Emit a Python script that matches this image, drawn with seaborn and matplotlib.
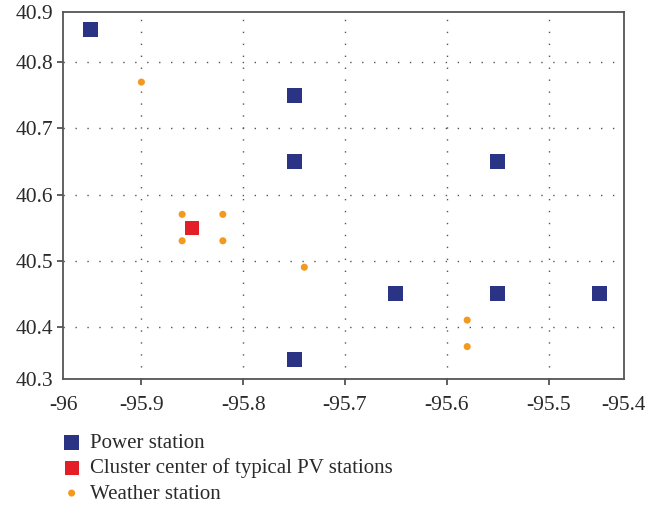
import matplotlib
matplotlib.use("Agg")
import matplotlib.pyplot as plt
import seaborn as sns
import pandas as pd

# Station coordinates (longitude, latitude)
power_lon = [-95.95, -95.75, -95.75, -95.55, -95.65, -95.55, -95.45, -95.75]
power_lat = [40.85, 40.75, 40.65, 40.65, 40.45, 40.45, 40.45, 40.35]

center_lon = [-95.85]
center_lat = [40.55]

weather_lon = [-95.90, -95.86, -95.82, -95.86, -95.82, -95.74, -95.58, -95.58]
weather_lat = [40.77, 40.57, 40.57, 40.53, 40.53, 40.49, 40.41, 40.37]

x_ticks = [-95.9, -95.8, -95.7, -95.6, -95.5]
y_ticks = [40.4, 40.5, 40.6, 40.7, 40.8]
x_end_labels = ["-96", "-95.4"]
y_end_labels = ["40.3", "40.9"]

sns.set_theme(style="white")
plt.rcParams["font.family"] = ["Liberation Serif", "DejaVu Serif"]

power = pd.DataFrame({"lon": power_lon, "lat": power_lat})
center = pd.DataFrame({"lon": center_lon, "lat": center_lat})
weather = pd.DataFrame({"lon": weather_lon, "lat": weather_lat})

fig = plt.figure(figsize=(6.45, 5.07), dpi=100)
ax = fig.add_axes([0.0977, 0.2525, 0.8697, 0.7238])

sns.scatterplot(data=power, x="lon", y="lat", ax=ax, marker="s", s=118,
                color="#2B3384", edgecolor="none", label="Power station", zorder=3)
sns.scatterplot(data=center, x="lon", y="lat", ax=ax, marker="s", s=100,
                color="#E41E26", edgecolor="none",
                label="Cluster center of typical PV stations", zorder=3)
sns.scatterplot(data=weather, x="lon", y="lat", ax=ax, marker="o", s=26,
                color="#F39A1E", edgecolor="none", label="Weather station", zorder=3)

xlo, xhi = -95.977, -95.426
ylo, yhi = 40.321, 40.876
ax.set_xlim(xlo, xhi)
ax.set_ylim(ylo, yhi)

# dotted grid on the interior ticks only
for xv in x_ticks:
    ax.axvline(xv, color="#555555", lw=1.0, ls=(0, (1, 7.6)), zorder=1)
for yv in y_ticks:
    ax.axhline(yv, color="#555555", lw=1.0, ls=(0, (1, 7.6)), zorder=1)

ax.set_xticks([xlo] + x_ticks + [xhi])
ax.set_xticklabels([x_end_labels[0]] + [f"{v:g}" for v in x_ticks] + [x_end_labels[1]])
ax.set_yticks([ylo] + y_ticks + [yhi])
ax.set_yticklabels([y_end_labels[0]] + [f"{v:g}" for v in y_ticks] + [y_end_labels[1]])
ax.tick_params(axis="both", which="both", direction="out", length=4, width=1.2,
               color="#444444", labelsize=15.5, labelcolor="#2a2a2a",
               bottom=True, left=True)
ax.tick_params(axis="x", pad=8)
ax.tick_params(axis="y", pad=3)

# the end labels sit on the frame corners without tick marks
for tk in (ax.xaxis.get_major_ticks()[0], ax.xaxis.get_major_ticks()[-1],
           ax.yaxis.get_major_ticks()[0], ax.yaxis.get_major_ticks()[-1]):
    tk.tick1line.set_visible(False)

ax.set_xlabel("")
ax.set_ylabel("")

for sp in ax.spines.values():
    sp.set_visible(True)
    sp.set_color("#555555")
    sp.set_linewidth(1.3)

handles, labels = ax.get_legend_handles_labels()
ax.get_legend().remove()
leg = fig.legend(handles, labels, loc="upper left",
                 bbox_to_anchor=(0.082, 0.162), frameon=False,
                 fontsize=15, labelspacing=0.27, handlelength=1.0,
                 handletextpad=0.4, borderaxespad=0)
for t in leg.get_texts():
    t.set_color("#2a2a2a")

fig.savefig("out.png", dpi=100)
